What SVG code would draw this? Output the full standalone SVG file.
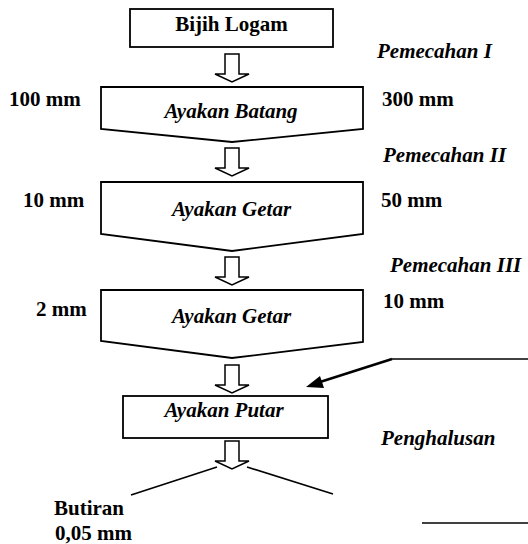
<svg xmlns="http://www.w3.org/2000/svg" width="528" height="544" viewBox="0 0 528 544">
<rect width="528" height="544" fill="#fff"/>
<g id="bijih">
<rect x="130" y="9" width="203" height="38" fill="#fff" stroke="#000" stroke-width="1.8"/>
<text x="231.5" y="31" text-anchor="middle" font-family="Liberation Serif" font-size="21" font-weight="bold">Bijih Logam</text>
</g>
<g id="ayakan-batang">
<path d="M101,87 H363 V129 L232,142 L101,129 Z" fill="#fff" stroke="#000" stroke-width="1.8"/>
<text x="231" y="118" text-anchor="middle" font-family="Liberation Serif" font-size="21" font-weight="bold" font-style="italic">Ayakan Batang</text>
</g>
<g id="ayakan-getar-1">
<path d="M101,182 H363 V234 L232,251 L101,234 Z" fill="#fff" stroke="#000" stroke-width="1.8"/>
<text x="231.5" y="216" text-anchor="middle" font-family="Liberation Serif" font-size="21" font-weight="bold" font-style="italic">Ayakan Getar</text>
</g>
<g id="ayakan-getar-2">
<path d="M101,290 H363 V342 L232,358 L101,341 Z" fill="#fff" stroke="#000" stroke-width="1.8"/>
<text x="231.5" y="323" text-anchor="middle" font-family="Liberation Serif" font-size="21" font-weight="bold" font-style="italic">Ayakan Getar</text>
</g>
<g id="ayakan-putar">
<rect x="123" y="396" width="205" height="42" fill="#fff" stroke="#000" stroke-width="1.8"/>
<text x="224" y="417" text-anchor="middle" font-family="Liberation Serif" font-size="21" font-weight="bold" font-style="italic">Ayakan Putar</text>
</g>
<g id="labels">
<text x="377" y="58" font-family="Liberation Serif" font-size="21" font-weight="bold" font-style="italic">Pemecahan I</text>
<text x="9" y="106" font-family="Liberation Serif" font-size="21" font-weight="bold">100 mm</text>
<text x="382" y="106" font-family="Liberation Serif" font-size="21" font-weight="bold">300 mm</text>
<text x="383" y="162" font-family="Liberation Serif" font-size="21" font-weight="bold" font-style="italic">Pemecahan II</text>
<text x="23" y="207" font-family="Liberation Serif" font-size="21" font-weight="bold">10 mm</text>
<text x="381" y="207" font-family="Liberation Serif" font-size="21" font-weight="bold">50 mm</text>
<text x="390" y="272" font-family="Liberation Serif" font-size="21" font-weight="bold" font-style="italic">Pemecahan III</text>
<text x="383" y="308" font-family="Liberation Serif" font-size="21" font-weight="bold">10 mm</text>
<text x="36" y="316" font-family="Liberation Serif" font-size="21" font-weight="bold">2 mm</text>
<text x="381" y="445" font-family="Liberation Serif" font-size="21" font-weight="bold" font-style="italic">Penghalusan</text>
<text x="54" y="515" font-family="Liberation Serif" font-size="21" font-weight="bold">Butiran</text>
<text x="55" y="540" font-family="Liberation Serif" font-size="21" font-weight="bold">0,05 mm</text>
</g>
<g id="connectors" fill="none" stroke="#000" stroke-width="1.6">
<path d="M225,54 H239 V74 H249 L232,82 L215,74 H225 Z" fill="#fff" stroke-width="1.5"/>
<path d="M225,148 H239 V168 H249 L232,176 L215,168 H225 Z" fill="#fff" stroke-width="1.5"/>
<path d="M225,257 H239 V277 H249 L232,285 L215,277 H225 Z" fill="#fff" stroke-width="1.5"/>
<path d="M225,365 H239 V385 H249 L232,393 L215,385 H225 Z" fill="#fff" stroke-width="1.5"/>
<path d="M225,441 H239 V461 H249 L232,469 L215,461 H225 Z" fill="#fff" stroke-width="1.5"/>
<line x1="217" y1="467" x2="131" y2="495"/>
<line x1="247" y1="467" x2="333" y2="494"/>
<line x1="528" y1="359" x2="392" y2="359"/>
<line x1="392" y1="359" x2="320" y2="382" stroke-width="2.6"/>
<path d="M306,387 L320,376 L324,388 Z" fill="#000" stroke="none"/>
<line x1="422" y1="523" x2="528" y2="523"/>
</g>
</svg>
